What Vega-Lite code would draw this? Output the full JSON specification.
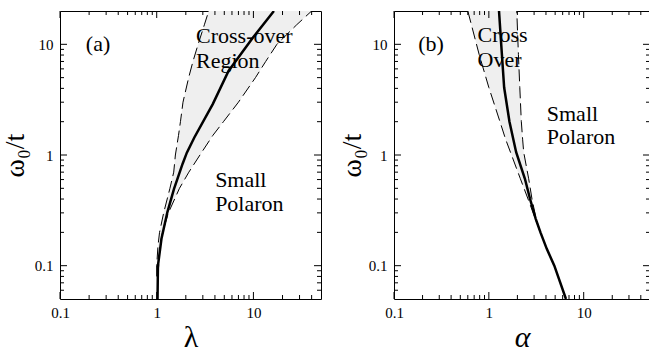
{
  "$schema": "https://vega.github.io/schema/vega-lite/v6.json",
  "padding": {"left": 0, "top": 10, "right": 0, "bottom": 0},
  "background": "white",
  "config": {
    "view": {"stroke": "black", "strokeWidth": 1},
    "font": "Liberation Serif",
    "concat": {"spacing": 15},
    "axis": {
      "domain": false,
      "ticks": false,
      "tickSize": 0,
      "labelColor": "black",
      "titleColor": "black",
      "labelFont": "Liberation Serif",
      "titleFont": "Liberation Serif",
      "titleFontWeight": "normal",
      "labelFontSize": 15,
      "labelFlush": false,
      "grid": false
    }
  },
  "datasets": {
    "xt": [
      {"v": 0.1, "kind": "major"}, {"v": 0.2, "kind": "minor"}, {"v": 0.3, "kind": "minor"}, {"v": 0.4, "kind": "minor"},
      {"v": 0.5, "kind": "minor"}, {"v": 0.6, "kind": "minor"}, {"v": 0.7, "kind": "minor"}, {"v": 0.8, "kind": "minor"},
      {"v": 0.9, "kind": "minor"}, {"v": 1, "kind": "major"}, {"v": 2, "kind": "minor"}, {"v": 3, "kind": "minor"},
      {"v": 4, "kind": "minor"}, {"v": 5, "kind": "minor"}, {"v": 6, "kind": "minor"}, {"v": 7, "kind": "minor"},
      {"v": 8, "kind": "minor"}, {"v": 9, "kind": "minor"}, {"v": 10, "kind": "major"}, {"v": 20, "kind": "minor"},
      {"v": 30, "kind": "minor"}, {"v": 40, "kind": "minor"}
    ],
    "yt": [
      {"v": 0.06, "kind": "minor"}, {"v": 0.07, "kind": "minor"}, {"v": 0.08, "kind": "minor"}, {"v": 0.09, "kind": "minor"},
      {"v": 0.1, "kind": "major"}, {"v": 0.2, "kind": "minor"}, {"v": 0.3, "kind": "minor"}, {"v": 0.4, "kind": "minor"},
      {"v": 0.5, "kind": "minor"}, {"v": 0.6, "kind": "minor"}, {"v": 0.7, "kind": "minor"}, {"v": 0.8, "kind": "minor"},
      {"v": 0.9, "kind": "minor"}, {"v": 1, "kind": "major"}, {"v": 2, "kind": "minor"}, {"v": 3, "kind": "minor"},
      {"v": 4, "kind": "minor"}, {"v": 5, "kind": "minor"}, {"v": 6, "kind": "minor"}, {"v": 7, "kind": "minor"},
      {"v": 8, "kind": "minor"}, {"v": 9, "kind": "minor"}, {"v": 10, "kind": "major"}
    ],
    "a_band": [
      {"y": 0.08, "l": 1.0, "r": 1.02},
      {"y": 0.1, "l": 1.0, "r": 1.05},
      {"y": 0.15, "l": 1.03, "r": 1.08},
      {"y": 0.2, "l": 1.07, "r": 1.15},
      {"y": 0.3, "l": 1.18, "r": 1.32},
      {"y": 0.5, "l": 1.37, "r": 1.72},
      {"y": 0.7, "l": 1.5, "r": 2.15},
      {"y": 1, "l": 1.56, "r": 2.8},
      {"y": 1.5, "l": 1.68, "r": 3.8},
      {"y": 2, "l": 1.76, "r": 4.9},
      {"y": 3, "l": 1.87, "r": 7.0},
      {"y": 5, "l": 2.14, "r": 10.5},
      {"y": 7, "l": 2.37, "r": 13.4},
      {"y": 10, "l": 2.68, "r": 17.5},
      {"y": 15, "l": 3.11, "r": 28},
      {"y": 20, "l": 3.45, "r": 40}
    ],
    "a_solid": [
      {"x": 1.02, "y": 0.05},
      {"x": 1.03, "y": 0.1},
      {"x": 1.12, "y": 0.175},
      {"x": 1.29, "y": 0.305},
      {"x": 1.51, "y": 0.494},
      {"x": 1.85, "y": 0.83},
      {"x": 2.05, "y": 1.05},
      {"x": 2.45, "y": 1.44},
      {"x": 3.8, "y": 2.88},
      {"x": 5.53, "y": 5.74},
      {"x": 9.9, "y": 11.5},
      {"x": 16.3, "y": 20}
    ],
    "a_text": [
      {"x": 0.185, "y": 8.65, "t": "(a)"},
      {"x": 2.55, "y": 10.2, "t": "Cross-over"},
      {"x": 2.55, "y": 6.08, "t": "Region"},
      {"x": 4.02, "y": 0.515, "t": "Small"},
      {"x": 4.02, "y": 0.313, "t": "Polaron"}
    ],
    "b_band": [
      {"y": 0.2, "l": 3.5, "r": 3.5},
      {"y": 0.265, "l": 3.09, "r": 3.15},
      {"y": 0.4, "l": 2.59, "r": 2.85},
      {"y": 0.61, "l": 2.15, "r": 2.63},
      {"y": 1.06, "l": 1.69, "r": 2.33},
      {"y": 1.39, "l": 1.5, "r": 2.27},
      {"y": 2, "l": 1.31, "r": 2.2},
      {"y": 4.07, "l": 1.0, "r": 2.12},
      {"y": 8.1, "l": 0.79, "r": 2.05},
      {"y": 20, "l": 0.6, "r": 1.97}
    ],
    "b_solid": [
      {"x": 6.5, "y": 0.05},
      {"x": 4.9, "y": 0.1},
      {"x": 4.08, "y": 0.142},
      {"x": 3.5, "y": 0.2},
      {"x": 3.12, "y": 0.265},
      {"x": 2.72, "y": 0.4},
      {"x": 2.4, "y": 0.61},
      {"x": 1.94, "y": 1.06},
      {"x": 1.65, "y": 2},
      {"x": 1.45, "y": 4.07},
      {"x": 1.35, "y": 10},
      {"x": 1.28, "y": 20}
    ],
    "b_text": [
      {"x": 0.18, "y": 8.65, "t": "(b)"},
      {"x": 0.76, "y": 10.4, "t": "Cross"},
      {"x": 0.76, "y": 6.2, "t": "Over"},
      {"x": 4.08, "y": 2.02, "t": "Small"},
      {"x": 4.08, "y": 1.26, "t": "Polaron"}
    ]
  },
  "hconcat": [
    {
      "width": 261,
      "height": 288,
      "resolve": {"axis": {"x": "independent", "y": "independent"}},
      "layer": [
        {
          "data": {"name": "a_band"},
          "mark": {"type": "area", "orient": "horizontal", "color": "#efefef", "clip": true},
          "encoding": {
            "y": {"field": "y", "type": "quantitative", "scale": {"type": "log", "domain": [0.05, 20], "nice": false},
              "axis": {"orient": "left", "title": "ω₀/t", "titleFontSize": 28, "titlePadding": 5,
                "values": [0.1, 1, 10], "labelExpr": "datum.value == 10 ? '10' : datum.value == 1 ? '1' : '0.1'",
                "labelPadding": 7}},
            "x": {"field": "l", "type": "quantitative", "scale": {"type": "log", "domain": [0.1, 50], "nice": false},
              "axis": {"orient": "bottom", "title": "λ", "titleFontSize": 30, "titlePadding": 2,
                "values": [0.1, 1, 10], "labelExpr": "datum.value == 10 ? '10' : datum.value == 1 ? '1' : '0.1'",
                "labelPadding": 6}},
            "x2": {"field": "r"}
          }
        },
        {
          "data": {"name": "a_band"},
          "mark": {"type": "line", "color": "black", "strokeWidth": 1, "strokeDash": [12, 5], "clip": true},
          "encoding": {
            "x": {"field": "l", "type": "quantitative", "axis": null},
            "y": {"field": "y", "type": "quantitative", "axis": null},
            "order": {"field": "y"}
          }
        },
        {
          "data": {"name": "a_band"},
          "mark": {"type": "line", "color": "black", "strokeWidth": 1, "strokeDash": [12, 5], "clip": true},
          "encoding": {
            "x": {"field": "r", "type": "quantitative", "axis": null},
            "y": {"field": "y", "type": "quantitative", "axis": null},
            "order": {"field": "y"}
          }
        },
        {
          "data": {"name": "a_solid"},
          "mark": {"type": "line", "color": "black", "strokeWidth": 2.5, "clip": true},
          "encoding": {
            "x": {"field": "x", "type": "quantitative", "axis": null},
            "y": {"field": "y", "type": "quantitative", "axis": null},
            "order": {"field": "y"}
          }
        },
        {
          "data": {"name": "a_text"},
          "mark": {"type": "text", "align": "left", "baseline": "alphabetic", "fontSize": 22, "font": "Liberation Serif", "color": "black"},
          "encoding": {
            "x": {"field": "x", "type": "quantitative", "axis": null},
            "y": {"field": "y", "type": "quantitative", "axis": null},
            "text": {"field": "t"}
          }
        },
        {
          "data": {"name": "xt"}, "transform": [{"filter": "datum.kind == 'major'"}],
          "mark": {"type": "rule", "color": "black", "strokeWidth": 1, "y2Offset": -7},
          "encoding": {"x": {"field": "v", "type": "quantitative", "axis": null}, "y": {"datum": 0.05, "type": "quantitative", "axis": null}, "y2": {"datum": 0.05}}
        },
        {
          "data": {"name": "xt"}, "transform": [{"filter": "datum.kind == 'minor'"}],
          "mark": {"type": "rule", "color": "black", "strokeWidth": 1, "y2Offset": -4},
          "encoding": {"x": {"field": "v", "type": "quantitative", "axis": null}, "y": {"datum": 0.05, "type": "quantitative", "axis": null}, "y2": {"datum": 0.05}}
        },
        {
          "data": {"name": "xt"}, "transform": [{"filter": "datum.kind == 'major'"}],
          "mark": {"type": "rule", "color": "black", "strokeWidth": 1, "y2Offset": 7},
          "encoding": {"x": {"field": "v", "type": "quantitative", "axis": null}, "y": {"datum": 20, "type": "quantitative", "axis": null}, "y2": {"datum": 20}}
        },
        {
          "data": {"name": "xt"}, "transform": [{"filter": "datum.kind == 'minor'"}],
          "mark": {"type": "rule", "color": "black", "strokeWidth": 1, "y2Offset": 4},
          "encoding": {"x": {"field": "v", "type": "quantitative", "axis": null}, "y": {"datum": 20, "type": "quantitative", "axis": null}, "y2": {"datum": 20}}
        },
        {
          "data": {"name": "yt"}, "transform": [{"filter": "datum.kind == 'major'"}],
          "mark": {"type": "rule", "color": "black", "strokeWidth": 1, "x2Offset": 7},
          "encoding": {"y": {"field": "v", "type": "quantitative", "axis": null}, "x": {"datum": 0.1, "type": "quantitative", "axis": null}, "x2": {"datum": 0.1}}
        },
        {
          "data": {"name": "yt"}, "transform": [{"filter": "datum.kind == 'minor'"}],
          "mark": {"type": "rule", "color": "black", "strokeWidth": 1, "x2Offset": 4},
          "encoding": {"y": {"field": "v", "type": "quantitative", "axis": null}, "x": {"datum": 0.1, "type": "quantitative", "axis": null}, "x2": {"datum": 0.1}}
        },
        {
          "data": {"name": "yt"}, "transform": [{"filter": "datum.kind == 'major'"}],
          "mark": {"type": "rule", "color": "black", "strokeWidth": 1, "x2Offset": -7},
          "encoding": {"y": {"field": "v", "type": "quantitative", "axis": null}, "x": {"datum": 50, "type": "quantitative", "axis": null}, "x2": {"datum": 50}}
        },
        {
          "data": {"name": "yt"}, "transform": [{"filter": "datum.kind == 'minor'"}],
          "mark": {"type": "rule", "color": "black", "strokeWidth": 1, "x2Offset": -4},
          "encoding": {"y": {"field": "v", "type": "quantitative", "axis": null}, "x": {"datum": 50, "type": "quantitative", "axis": null}, "x2": {"datum": 50}}
        }
      ]
    },
    {
      "width": 256,
      "height": 288,
      "resolve": {"axis": {"x": "independent", "y": "independent"}},
      "layer": [
        {
          "data": {"name": "b_band"},
          "mark": {"type": "area", "orient": "horizontal", "color": "#efefef", "clip": true},
          "encoding": {
            "y": {"field": "y", "type": "quantitative", "scale": {"type": "log", "domain": [0.05, 20], "nice": false},
              "axis": {"orient": "left", "title": "ω₀/t", "titleFontSize": 28, "titlePadding": 2,
                "values": [0.1, 1, 10], "labelExpr": "datum.value == 10 ? '10' : datum.value == 1 ? '1' : '0.1'",
                "labelPadding": 7}},
            "x": {"field": "l", "type": "quantitative", "scale": {"type": "log", "domain": [0.1, 50], "nice": false},
              "axis": {"orient": "bottom", "title": "α", "titleFontSize": 30, "titleFontStyle": "italic", "titlePadding": 2,
                "values": [0.1, 1, 10], "labelExpr": "datum.value == 10 ? '10' : datum.value == 1 ? '1' : '0.1'",
                "labelPadding": 6}},
            "x2": {"field": "r"}
          }
        },
        {
          "data": {"name": "b_band"},
          "mark": {"type": "line", "color": "black", "strokeWidth": 1, "strokeDash": [12, 5], "clip": true},
          "encoding": {
            "x": {"field": "l", "type": "quantitative", "axis": null},
            "y": {"field": "y", "type": "quantitative", "axis": null},
            "order": {"field": "y"}
          }
        },
        {
          "data": {"name": "b_band"},
          "mark": {"type": "line", "color": "black", "strokeWidth": 1, "strokeDash": [12, 5], "clip": true},
          "encoding": {
            "x": {"field": "r", "type": "quantitative", "axis": null},
            "y": {"field": "y", "type": "quantitative", "axis": null},
            "order": {"field": "y"}
          }
        },
        {
          "data": {"name": "b_solid"},
          "mark": {"type": "line", "color": "black", "strokeWidth": 2.5, "clip": true},
          "encoding": {
            "x": {"field": "x", "type": "quantitative", "axis": null},
            "y": {"field": "y", "type": "quantitative", "axis": null},
            "order": {"field": "y"}
          }
        },
        {
          "data": {"name": "b_text"},
          "mark": {"type": "text", "align": "left", "baseline": "alphabetic", "fontSize": 22, "font": "Liberation Serif", "color": "black"},
          "encoding": {
            "x": {"field": "x", "type": "quantitative", "axis": null},
            "y": {"field": "y", "type": "quantitative", "axis": null},
            "text": {"field": "t"}
          }
        },
        {
          "data": {"name": "xt"}, "transform": [{"filter": "datum.kind == 'major'"}],
          "mark": {"type": "rule", "color": "black", "strokeWidth": 1, "y2Offset": -7},
          "encoding": {"x": {"field": "v", "type": "quantitative", "axis": null}, "y": {"datum": 0.05, "type": "quantitative", "axis": null}, "y2": {"datum": 0.05}}
        },
        {
          "data": {"name": "xt"}, "transform": [{"filter": "datum.kind == 'minor'"}],
          "mark": {"type": "rule", "color": "black", "strokeWidth": 1, "y2Offset": -4},
          "encoding": {"x": {"field": "v", "type": "quantitative", "axis": null}, "y": {"datum": 0.05, "type": "quantitative", "axis": null}, "y2": {"datum": 0.05}}
        },
        {
          "data": {"name": "xt"}, "transform": [{"filter": "datum.kind == 'major'"}],
          "mark": {"type": "rule", "color": "black", "strokeWidth": 1, "y2Offset": 7},
          "encoding": {"x": {"field": "v", "type": "quantitative", "axis": null}, "y": {"datum": 20, "type": "quantitative", "axis": null}, "y2": {"datum": 20}}
        },
        {
          "data": {"name": "xt"}, "transform": [{"filter": "datum.kind == 'minor'"}],
          "mark": {"type": "rule", "color": "black", "strokeWidth": 1, "y2Offset": 4},
          "encoding": {"x": {"field": "v", "type": "quantitative", "axis": null}, "y": {"datum": 20, "type": "quantitative", "axis": null}, "y2": {"datum": 20}}
        },
        {
          "data": {"name": "yt"}, "transform": [{"filter": "datum.kind == 'major'"}],
          "mark": {"type": "rule", "color": "black", "strokeWidth": 1, "x2Offset": 7},
          "encoding": {"y": {"field": "v", "type": "quantitative", "axis": null}, "x": {"datum": 0.1, "type": "quantitative", "axis": null}, "x2": {"datum": 0.1}}
        },
        {
          "data": {"name": "yt"}, "transform": [{"filter": "datum.kind == 'minor'"}],
          "mark": {"type": "rule", "color": "black", "strokeWidth": 1, "x2Offset": 4},
          "encoding": {"y": {"field": "v", "type": "quantitative", "axis": null}, "x": {"datum": 0.1, "type": "quantitative", "axis": null}, "x2": {"datum": 0.1}}
        },
        {
          "data": {"name": "yt"}, "transform": [{"filter": "datum.kind == 'major'"}],
          "mark": {"type": "rule", "color": "black", "strokeWidth": 1, "x2Offset": -7},
          "encoding": {"y": {"field": "v", "type": "quantitative", "axis": null}, "x": {"datum": 50, "type": "quantitative", "axis": null}, "x2": {"datum": 50}}
        },
        {
          "data": {"name": "yt"}, "transform": [{"filter": "datum.kind == 'minor'"}],
          "mark": {"type": "rule", "color": "black", "strokeWidth": 1, "x2Offset": -4},
          "encoding": {"y": {"field": "v", "type": "quantitative", "axis": null}, "x": {"datum": 50, "type": "quantitative", "axis": null}, "x2": {"datum": 50}}
        }
      ]
    }
  ]
}
